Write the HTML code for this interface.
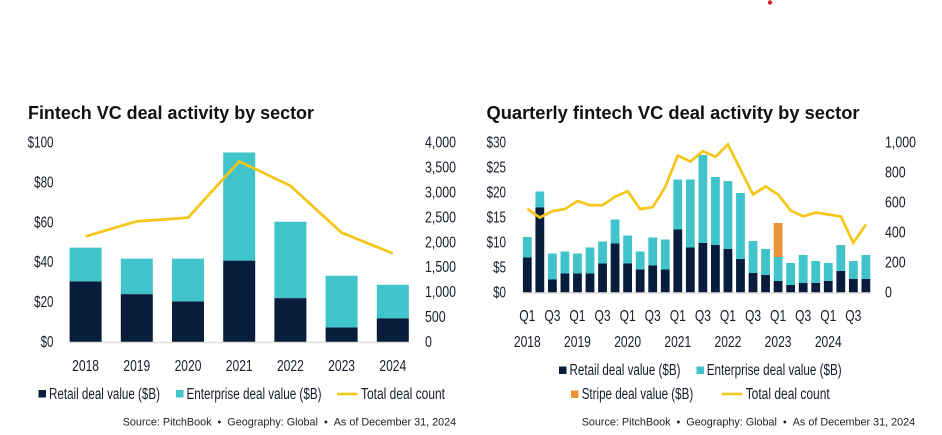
<!DOCTYPE html>
<html lang="en">
<head>
<meta charset="utf-8">
<title>Fintech VC deal activity by sector</title>
<style>
html,body{margin:0;padding:0;background:#fff;}
body{width:942px;height:435px;overflow:hidden;}
svg{display:block;font-family:"Liberation Sans",Arial,sans-serif;}
text{fill:#161c2a;}
.title{font-size:18.5px;font-weight:700;fill:#111;}
.legend{font-size:15.5px;}
.source{font-size:11px;fill:#222;}
</style>
</head>
<body>
<svg id="root" xmlns="http://www.w3.org/2000/svg" width="942" height="435" viewBox="0 0 942 435">
  <circle cx="770" cy="2.5" r="2.2" fill="#d6202a"/>

  <g id="left-chart">
    <text class="title" x="28" y="119" textLength="286" lengthAdjust="spacingAndGlyphs">Fintech VC deal activity by sector</text>
    <rect x="38.5" y="390" width="7.5" height="7.5" fill="#071d3b"/>
    <text class="legend" x="49" y="399" textLength="111" lengthAdjust="spacingAndGlyphs">Retail deal value ($B)</text>
    <rect x="176" y="390" width="7.5" height="7.5" fill="#40c3ca"/>
    <text class="legend" x="186.5" y="399" textLength="135" lengthAdjust="spacingAndGlyphs">Enterprise deal value ($B)</text>
    <line x1="337" x2="357.5" y1="394" y2="394" stroke="#f5c518" stroke-width="2.6"/>
    <text class="legend" x="361" y="399" textLength="84" lengthAdjust="spacingAndGlyphs">Total deal count</text>
    <text class="source" x="122.7" y="425.5" textLength="333.5" lengthAdjust="spacingAndGlyphs">Source: PitchBook&#160;&#160;•&#160;&#160;Geography: Global&#160;&#160;•&#160;&#160;As of December 31, 2024</text>
  </g>

  <g id="right-chart">
    <text class="title" x="486.5" y="119" textLength="373" lengthAdjust="spacingAndGlyphs">Quarterly fintech VC deal activity by sector</text>
    <rect x="559" y="366.5" width="7.5" height="7.5" fill="#071d3b"/>
    <text class="legend" x="569.5" y="375" textLength="111" lengthAdjust="spacingAndGlyphs">Retail deal value ($B)</text>
    <rect x="696.5" y="366.5" width="7.5" height="7.5" fill="#40c3ca"/>
    <text class="legend" x="706.7" y="375" textLength="135" lengthAdjust="spacingAndGlyphs">Enterprise deal value ($B)</text>
    <rect x="571" y="390.5" width="7.5" height="7.5" fill="#ec933a"/>
    <text class="legend" x="581.7" y="399" textLength="111.5" lengthAdjust="spacingAndGlyphs">Stripe deal value ($B)</text>
    <line x1="721.7" x2="742.3" y1="394" y2="394" stroke="#f5c518" stroke-width="2.6"/>
    <text class="legend" x="745.7" y="399" textLength="84" lengthAdjust="spacingAndGlyphs">Total deal count</text>
    <text class="source" x="581.7" y="425.5" textLength="333.5" lengthAdjust="spacingAndGlyphs">Source: PitchBook&#160;&#160;•&#160;&#160;Geography: Global&#160;&#160;•&#160;&#160;As of December 31, 2024</text>
  </g>
</svg>
<script>
/* Annual chart data */
const annualYears = ['2018','2019','2020','2021','2022','2023','2024'];
const annualRetail = [30.4,24,20.4,40.8,22,7.3,11.9];
const annualEnterprise = [16.9,17.8,21.4,54.2,38.3,25.9,16.8];
const annualCount = [2118,2419,2492,3622,3133,2192,1777];
const annualValueTicks = [0,20,40,60,80,100];
const annualCountTicks = [0,500,1000,1500,2000,2500,3000,3500,4000];

/* Quarterly chart data */
const quarterLabels = ['Q1','Q2','Q3','Q4','Q1','Q2','Q3','Q4','Q1','Q2','Q3','Q4','Q1','Q2','Q3','Q4','Q1','Q2','Q3','Q4','Q1','Q2','Q3','Q4','Q1','Q2','Q3','Q4'];
const quarterYears = ['2018','2019','2020','2021','2022','2023','2024'];
const quarterRetail = [7,17,2.6,3.8,3.8,3.8,5.8,9.8,5.8,4.6,5.4,4.6,12.6,9,9.9,9.5,8.7,6.7,3.9,3.5,2.3,1.5,1.9,1.9,2.3,4.3,2.7,2.7];
const quarterEnterprise = [4.1,3.2,5.2,4.4,4,5.2,4.4,4.8,5.6,3.6,5.6,6,10,13.6,17.6,13.6,13.6,13.2,6.4,5.2,4.8,4.4,5.6,4.4,3.6,5.2,3.6,4.8];
const quarterStripe = [0,0,0,0,0,0,0,0,0,0,0,0,0,0,0,0,0,0,0,0,6.8,0,0,0,0,0,0,0];
const quarterCount = [558,500,542,556,609,582,582,638,676,556,569,704,913,873,942,904,987,820,653,707,653,547,507,533,520,507,331,453];
const quarterValueTicks = [0,5,10,15,20,25,30];
const quarterCountTicks = [0,200,400,600,800,1000];

const NS = 'http://www.w3.org/2000/svg';
const navy = '#071d3b', teal = '#40c3ca', orange = '#ec933a', gold = '#f5c518', axisGrey = '#dfdfdc';
const leftGroup = document.getElementById('left-chart');
const rightGroup = document.getElementById('right-chart');

function make(parent, tag, attrs) {
  const el = document.createElementNS(NS, tag);
  for (const k in attrs) el.setAttribute(k, attrs[k]);
  parent.appendChild(el);
  return el;
}
function makeLabel(parent, str, x, y, anchor, sx) {
  const el = make(parent, 'text', {
    transform: 'translate(' + x + ',' + y + ') scale(' + sx + ',1)',
    'text-anchor': anchor,
    'font-size': '15.5'
  });
  el.textContent = str;
  return el;
}
function money(v) { return '$' + v; }
function commas(v) { return v.toLocaleString('en-US'); }

/* ---------- Annual chart ---------- */
const a = {x0: 85.6, step: 51.2, barW: 32, base: 342, top: 142.5, maxV: 100, maxC: 4000};
const ax = i => a.x0 + i * a.step;
const ayV = v => a.base - (v / a.maxV) * (a.base - a.top);
const ayC = v => a.base - (v / a.maxC) * (a.base - a.top);

annualYears.forEach((yr, i) => {
  const r = annualRetail[i], e = annualEnterprise[i];
  const x = ax(i) - a.barW / 2;
  let el = make(leftGroup, 'rect', {x: x, y: ayV(r), width: a.barW, height: a.base - ayV(r), fill: navy});
  
  
  el = make(leftGroup, 'rect', {x: x, y: ayV(r + e), width: a.barW, height: ayV(r) - ayV(r + e), fill: teal});
  
  
  el = makeLabel(leftGroup, yr, ax(i), 371, 'middle', 0.78);
  
  
});
let axisEl = make(leftGroup, 'line', {x1: ax(0) - a.barW / 2, x2: ax(annualYears.length - 1) + a.barW / 2, y1: a.base + 0.5, y2: a.base + 0.5, stroke: axisGrey, 'stroke-width': 1.6});


let lineEl = make(leftGroup, 'polyline', {
  points: annualCount.map((c, i) => ax(i) + ',' + ayC(c)).join(' '),
  fill: 'none', stroke: gold, 'stroke-width': 2.7, 'stroke-linejoin': 'miter'
});


annualValueTicks.forEach(v => {
  const el = makeLabel(leftGroup, money(v), 53.5, ayV(v) + 5, 'end', 0.75);
  
  
});
annualCountTicks.forEach(v => {
  const el = makeLabel(leftGroup, commas(v), 425, ayC(v) + 5, 'start', 0.8);
  
  
});

/* ---------- Quarterly chart ---------- */
const q = {x0: 527.3, step: 12.54, barW: 8.8, base: 292.5, top: 142.5, maxV: 30, maxC: 1000};
const qx = i => q.x0 + i * q.step;
const qyV = v => q.base - (v / q.maxV) * (q.base - q.top);
const qyC = v => q.base - (v / q.maxC) * (q.base - q.top);

quarterRetail.forEach((r, i) => {
  const e = quarterEnterprise[i], s = quarterStripe[i];
  const x = qx(i) - q.barW / 2;
  let el = make(rightGroup, 'rect', {x: x, y: qyV(r), width: q.barW, height: q.base - qyV(r), fill: navy});
  
  
  el = make(rightGroup, 'rect', {x: x, y: qyV(r + e), width: q.barW, height: qyV(r) - qyV(r + e), fill: teal});
  
  
  if (s > 0) {
    el = make(rightGroup, 'rect', {x: x, y: qyV(r + e + s), width: q.barW, height: qyV(r + e) - qyV(r + e + s), fill: orange});
    
    
  }
  if (i % 2 === 0) {
    el = makeLabel(rightGroup, quarterLabels[i], qx(i), 321, 'middle', 0.78);
    
    
  }
});
quarterYears.forEach((yr, i) => {
  const el = makeLabel(rightGroup, yr, qx(i * 4), 347, 'middle', 0.78);
  
  
});
axisEl = make(rightGroup, 'line', {x1: qx(0) - q.barW / 2, x2: qx(quarterRetail.length - 1) + q.barW / 2, y1: q.base + 0.5, y2: q.base + 0.5, stroke: axisGrey, 'stroke-width': 1.6});


lineEl = make(rightGroup, 'polyline', {
  points: quarterCount.map((c, i) => qx(i) + ',' + qyC(c)).join(' '),
  fill: 'none', stroke: gold, 'stroke-width': 2.7, 'stroke-linejoin': 'miter'
});


quarterValueTicks.forEach(v => {
  const el = makeLabel(rightGroup, money(v), 506, qyV(v) + 5, 'end', 0.75);
  
  
});
quarterCountTicks.forEach(v => {
  const el = makeLabel(rightGroup, commas(v), 885, qyC(v) + 5, 'start', 0.8);
  
  
});
</script>
</body>
</html>
